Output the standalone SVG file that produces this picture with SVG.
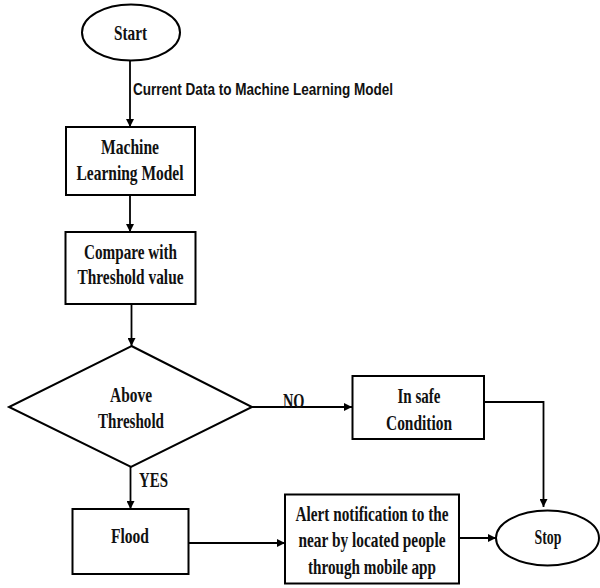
<svg xmlns="http://www.w3.org/2000/svg" width="600" height="588" viewBox="0 0 600 588">
<defs>
<style>
.shape{fill:#fff;stroke:#000;stroke-width:2}
.t{font-family:"Liberation Serif","Times New Roman",serif;font-weight:bold;font-size:21px;fill:#111;text-anchor:middle}
.lbl{font-family:"Liberation Sans",Arial,sans-serif;font-weight:bold;font-size:17px;fill:#111}
.c{fill:none;stroke:#000;stroke-width:1.8}
</style>
<marker id="ah" viewBox="0 0 10 10" refX="10" refY="5" markerWidth="8" markerHeight="8" markerUnits="userSpaceOnUse" orient="auto">
<path d="M0,0 L10,5 L0,10 z" fill="#000"/>
</marker>
</defs>
<rect width="600" height="588" fill="#fff"/>
<g id="connectors">
<line class="c" x1="130" y1="61" x2="130" y2="127" marker-end="url(#ah)"/>
<line class="c" x1="130" y1="195" x2="130" y2="232" marker-end="url(#ah)"/>
<line class="c" x1="131.5" y1="304" x2="131.5" y2="346" marker-end="url(#ah)"/>
<line class="c" x1="252" y1="407" x2="352" y2="407" marker-end="url(#ah)"/>
<polyline class="c" points="484,402 543.5,402 543.5,507" marker-end="url(#ah)"/>
<line class="c" x1="130.5" y1="467" x2="130.5" y2="509" marker-end="url(#ah)"/>
<line class="c" x1="188" y1="543" x2="285" y2="543" marker-end="url(#ah)"/>
<line class="c" x1="459" y1="538" x2="496" y2="538" marker-end="url(#ah)"/>
<text class="lbl" x="133" y="95" textLength="260" lengthAdjust="spacingAndGlyphs">Current Data to Machine Learning Model</text>
<text class="t" x="283" y="407.5" style="text-anchor:start" textLength="21.5" lengthAdjust="spacingAndGlyphs">NO</text>
<text class="t" x="139" y="487" style="text-anchor:start" textLength="29" lengthAdjust="spacingAndGlyphs">YES</text>
</g>
<g id="start">
<ellipse class="shape" cx="131" cy="32.5" rx="49" ry="28"/>
<text class="t" x="130.5" y="40" textLength="33" lengthAdjust="spacingAndGlyphs">Start</text>
</g>
<g id="ml-model">
<rect class="shape" x="66" y="127" width="129" height="68"/>
<text class="t" x="130" y="154" textLength="58" lengthAdjust="spacingAndGlyphs">Machine</text>
<text class="t" x="130" y="180" textLength="107" lengthAdjust="spacingAndGlyphs">Learning Model</text>
</g>
<g id="compare">
<rect class="shape" x="65.5" y="232" width="130" height="72"/>
<text class="t" x="130.5" y="258.5" textLength="93" lengthAdjust="spacingAndGlyphs">Compare with</text>
<text class="t" x="130.5" y="283.5" textLength="106" lengthAdjust="spacingAndGlyphs">Threshold value</text>
</g>
<g id="decision">
<polygon class="shape" points="131.5,346 252,407 131,467 9,407"/>
<text class="t" x="131" y="402" textLength="42" lengthAdjust="spacingAndGlyphs">Above</text>
<text class="t" x="131" y="427.5" textLength="66" lengthAdjust="spacingAndGlyphs">Threshold</text>
</g>
<g id="safe">
<rect class="shape" x="352.5" y="376" width="131.5" height="63"/>
<text class="t" x="419" y="403" textLength="43" lengthAdjust="spacingAndGlyphs">In safe</text>
<text class="t" x="419" y="430" textLength="66" lengthAdjust="spacingAndGlyphs">Condition</text>
</g>
<g id="flood">
<rect class="shape" x="72.5" y="509" width="116" height="65"/>
<text class="t" x="130" y="543" textLength="38" lengthAdjust="spacingAndGlyphs">Flood</text>
</g>
<g id="alert">
<rect class="shape" x="285" y="494.5" width="174" height="89"/>
<text class="t" x="372" y="521" textLength="153" lengthAdjust="spacingAndGlyphs">Alert notification to the</text>
<text class="t" x="372" y="547" textLength="147" lengthAdjust="spacingAndGlyphs">near by located people</text>
<text class="t" x="372" y="573.5" textLength="128" lengthAdjust="spacingAndGlyphs">through mobile app</text>
</g>
<g id="stop">
<ellipse class="shape" cx="547.5" cy="538" rx="51.5" ry="27.5"/>
<text class="t" x="548" y="544" textLength="27" lengthAdjust="spacingAndGlyphs">Stop</text>
</g>
</svg>
